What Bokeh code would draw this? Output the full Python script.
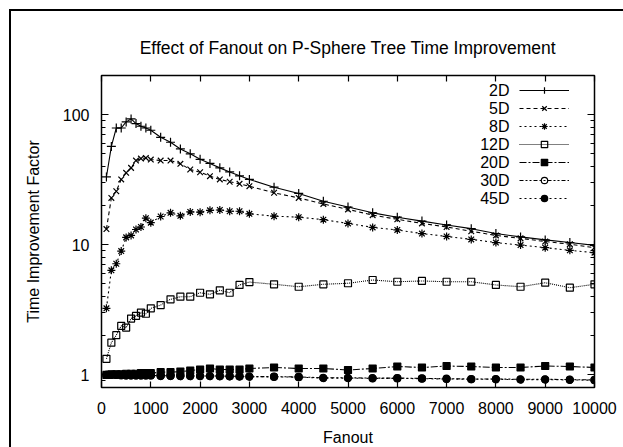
from bokeh.plotting import figure
from bokeh.models import (LinearAxis, LogAxis, Range1d, Legend, LegendItem, Label,
                          FixedTicker, BasicTickFormatter, PrintfTickFormatter,
                          CustomJSTickFormatter)
from bokeh.embed import file_html
from bokeh.resources import INLINE

# ---------------- data ----------------
fanout = [100, 200, 300, 400, 500, 600, 700, 800, 900, 1000,
          1200, 1400, 1600, 1800, 2000, 2200, 2400, 2600, 2800, 3000,
          3500, 4000, 4500, 5000, 5500, 6000, 6500, 7000, 7500, 8000,
          8500, 9000, 9500, 10000]

d2 = [33.2, 57, 79, 79, 88, 92.7, 85.4, 81.5, 79, 75.9,
      67, 61.4, 54.5, 50, 45.4, 42.2, 39, 36.3, 33.9, 31.8,
      27.7, 24.8, 21.6, 19.5, 17.6, 16.3, 15.2, 14.2, 13.3, 12.2,
      11.5, 10.9, 10.4, 9.9]
d5 = [13.2, 22.9, 25.8, 31.8, 35.7, 39, 44.4, 46, 46.5, 45.2,
      44.4, 44.4, 41.9, 37.9, 36.1, 33.7, 31.8, 30.5, 29.4, 28.2,
      25.1, 22.9, 20.6, 18.7, 16.9, 15.7, 14.6, 13.7, 12.7, 11.8,
      11.2, 10.6, 10.1, 9.5]
d8 = [3.25, 6.36, 7.15, 8.95, 11.4, 11.8, 13.1, 13.7, 16.0, 14.8,
      16.5, 17.6, 16.7, 17.9, 17.8, 18.4, 18.5, 18.1, 18.1, 17.3,
      16.6, 16.3, 15.6, 14.6, 13.6, 13.0, 12.2, 11.6, 11.0, 10.4,
      9.95, 9.5, 9.06, 8.7]
d12 = [1.33, 1.77, 2.02, 2.38, 2.31, 2.71, 2.84, 3.01, 2.95, 3.25,
       3.44, 3.81, 3.99, 3.99, 4.28, 4.16, 4.47, 4.28, 4.91, 5.17,
       4.97, 4.76, 4.97, 5.06, 5.36, 5.2, 5.27, 5.2, 5.2, 4.91,
       4.76, 5.11, 4.68, 4.97]
d20 = [1.0, 1.01, 1.01, 1.01, 1.02, 1.02, 1.02, 1.03, 1.03, 1.03,
       1.05, 1.05, 1.06, 1.08, 1.10, 1.12, 1.10, 1.10, 1.10, 1.12,
       1.14, 1.12, 1.12, 1.09, 1.12, 1.16, 1.14, 1.17, 1.16, 1.14,
       1.14, 1.17, 1.16, 1.14]
d30 = [1.0, 1.0, 1.0, 1.0, 0.99, 0.99, 0.99, 0.99, 0.99, 0.99,
       0.985, 0.985, 0.98, 0.98, 0.98, 0.98, 0.98, 0.975, 0.975, 0.97,
       0.97, 0.965, 0.95, 0.95, 0.945, 0.945, 0.94, 0.935, 0.93, 0.93,
       0.925, 0.925, 0.92, 0.915]
d45 = [1.0, 1.0, 1.0, 0.99, 0.99, 0.99, 0.99, 0.99, 0.99, 0.99,
       0.98, 0.98, 0.98, 0.98, 0.98, 0.98, 0.975, 0.975, 0.97, 0.97,
       0.965, 0.96, 0.945, 0.945, 0.94, 0.94, 0.935, 0.93, 0.925, 0.925,
       0.92, 0.92, 0.915, 0.91]

series_names = ["2D", "5D", "8D", "12D", "20D", "30D", "45D"]
series_values = [d2, d5, d8, d12, d20, d30, d45]

x_ticks = [0, 1000, 2000, 3000, 4000, 5000, 6000, 7000, 8000, 9000, 10000]
y_ticks = [1, 10, 100]

# ---------------- styles ----------------
FONT = "Liberation Sans"
FS = "16px"
styles = [
    dict(marker="cross", size=9, dash="solid", fill=True),
    dict(marker="x", size=8, dash="4 3", fill=True),
    dict(marker="asterisk", size=8, dash="2 3", fill=True),
    dict(marker="square", size=7, dash="1 1", fill=False),
    dict(marker="square", size=7, dash="7 2 2 2", fill=True),
    dict(marker="circle", size=7, dash="4 2 2 2 2 2", fill=False),
    dict(marker="circle", size=7, dash="2 3", fill=True),
]

p = figure(frame_width=493, frame_height=312,
           x_range=Range1d(0, 10000), y_range=Range1d(0.8, 200),
           y_axis_type="log", output_backend="svg", toolbar_location=None,
           min_border_left=90, min_border_right=29, min_border_top=64,
           min_border_bottom=60, background_fill_color="white",
           border_fill_color="white")
p.styles = {"margin-left": "9px", "margin-top": "9px",
            "border-left": "2px solid black", "border-top": "2px solid black"}

p.xgrid.visible = False
p.ygrid.visible = False
p.outline_line_color = "black"
p.outline_line_width = 1.5

p.title.text = "Effect of Fanout on P-Sphere Tree Time Improvement"
p.title.align = "center"
p.title.text_font = FONT
p.title.text_font_size = "17.5px"
p.title.text_font_style = "normal"
p.title.text_color = "black"
p.title.standoff = 35

minor_y = [m * 10 ** k for k in range(-1, 3) for m in range(2, 10)]
blank = CustomJSTickFormatter(code="return ''")


def style_x(ax, labels=True):
    ax.ticker = FixedTicker(ticks=x_ticks)
    ax.formatter = BasicTickFormatter(use_scientific=False) if labels else blank
    ax.major_tick_in = 6
    ax.major_tick_out = 0
    ax.minor_tick_in = 0
    ax.minor_tick_out = 0
    ax.axis_line_color = None
    ax.major_tick_line_color = "black"
    ax.major_tick_line_width = 1.2
    ax.major_label_text_font = FONT
    ax.major_label_text_color = "black"
    ax.major_label_text_font_size = FS if labels else "1px"
    ax.major_label_standoff = 14 if labels else 0


def style_y(ax, labels=True):
    ax.ticker = FixedTicker(ticks=y_ticks, minor_ticks=minor_y)
    ax.formatter = PrintfTickFormatter(format="%d") if labels else blank
    ax.major_tick_in = 7
    ax.major_tick_out = 0
    ax.minor_tick_in = 4
    ax.minor_tick_out = 0
    ax.axis_line_color = None
    ax.major_tick_line_color = "black"
    ax.major_tick_line_width = 1.2
    ax.minor_tick_line_color = "black"
    ax.major_label_text_font = FONT
    ax.major_label_text_color = "black"
    ax.major_label_text_font_size = FS if labels else "1px"
    ax.major_label_standoff = 12 if labels else 0


style_x(p.xaxis[0])
style_y(p.yaxis[0])
p.xaxis.axis_label = "Fanout"
p.yaxis.axis_label = "Time Improvement Factor"
for ax in (p.xaxis[0], p.yaxis[0]):
    ax.axis_label_text_font = FONT
    ax.axis_label_text_font_size = FS
    ax.axis_label_text_font_style = "normal"
    ax.axis_label_text_color = "black"
p.xaxis.axis_label_standoff = 12
p.yaxis.axis_label_standoff = 18

top_ax = LinearAxis()
style_x(top_ax, labels=False)
p.add_layout(top_ax, "above")
right_ax = LogAxis()
style_y(right_ax, labels=False)
p.add_layout(right_ax, "right")

items = []
for name, vals, st in zip(series_names, series_values, styles):
    r_line = p.line(fanout, vals, line_color="black", line_width=1.1,
                    line_dash=st["dash"])
    r_mark = p.scatter(fanout, vals, marker=st["marker"], size=st["size"],
                       line_color="black", line_width=1.2,
                       fill_color="black" if st["fill"] else None)
    items.append(LegendItem(label="", renderers=[r_line, r_mark]))

# legend samples (gnuplot style: text on the left, sample on the right)
ROW = 18
legend = Legend(items=items, location=(418, 181), orientation="vertical",
                glyph_width=50, glyph_height=16, label_height=16, spacing=2,
                padding=0, margin=0, label_standoff=0, label_width=0,
                label_text_font=FONT, label_text_font_size=FS,
                border_line_color=None, background_fill_alpha=0)
p.add_layout(legend)

for i, name in enumerate(series_names):
    p.add_layout(Label(x=408, y=297 - ROW * i, x_units="screen", y_units="screen",
                       text=name, text_align="right", text_baseline="middle",
                       text_font=FONT, text_font_size=FS, text_color="black"))

open("out.html", "w").write(file_html(p, INLINE))
